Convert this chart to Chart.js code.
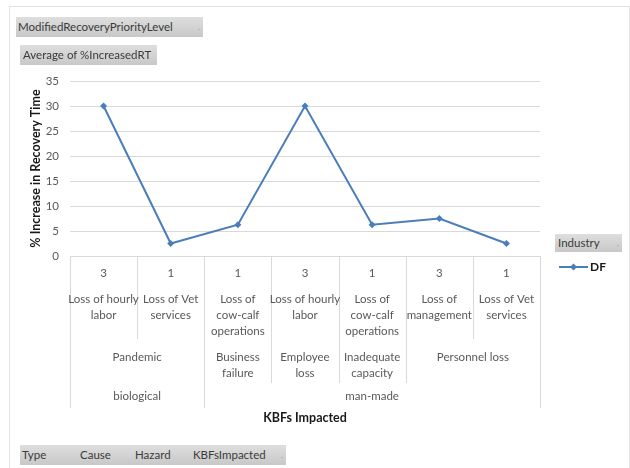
<!DOCTYPE html>
<html>
<head>
<meta charset="utf-8">
<script src="https://cdn.jsdelivr.net/npm/chart.js@4"></script>
<style>
  html, body { margin: 0; padding: 0; background: #fff; }
  #wrap { position: relative; width: 630px; height: 468px; overflow: hidden; font-family: Lato, "Liberation Sans", sans-serif; }
  #frame { position: absolute; left: 9px; top: 6px; width: 619px; height: 480px; border: 1px solid #e3e3e3; }
  canvas { position: absolute; left: 0; top: 0; }
  .field {
    position: absolute; box-sizing: border-box; height: 20px; line-height: 20px;
    font-size: 11.5px; color: #3a3a3a; white-space: nowrap;
    background: linear-gradient(#dedede, #c8c8c8);
    padding-left: 2px;
  }
  .field .dd { position: absolute; right: 3px; top: 0; color: #888; font-size: 8px; }
</style>
</head>
<body>
<div id="wrap">
  <div id="frame"></div>
  <canvas id="chart" width="630" height="468"></canvas>
  <div class="field" style="left:16px; top:17px; width:187px;">ModifiedRecoveryPriorityLevel<span class="dd">.</span></div>
  <div class="field" style="left:20px; top:45px; width:137px; padding-left:3px;">Average of %IncreasedRT</div>
  <div class="field" style="left:555px; top:234px; width:67px; height:18px; line-height:18px; padding-left:3px;">Industry<span class="dd">.</span></div>
  <div class="field" style="left:20px; top:445px; width:266px;">
    <span style="position:absolute; left:2px;">Type</span>
    <span style="position:absolute; left:60px;">Cause</span>
    <span style="position:absolute; left:115px;">Hazard</span>
    <span style="position:absolute; left:173px;">KBFsImpacted</span>
    <span class="dd">.</span>
  </div>
</div>
<script>
// Key business functions, one per point, with their recovery priority level
const kbfLabels = [
  ["Loss of hourly", "labor"],
  ["Loss of Vet", "services"],
  ["Loss of", "cow-calf", "operations"],
  ["Loss of hourly", "labor"],
  ["Loss of", "cow-calf", "operations"],
  ["Loss of", "management"],
  ["Loss of Vet", "services"]
];
const priorityLevels = ["3", "1", "1", "3", "1", "3", "1"];

// Hazard (cause) groups and hazard types, each covering a run of KBFs
const causeGroups = [
  { label: ["Pandemic"], span: 2 },
  { label: ["Business", "failure"], span: 1 },
  { label: ["Employee", "loss"], span: 1 },
  { label: ["Inadequate", "capacity"], span: 1 },
  { label: ["Personnel loss"], span: 2 }
];
const typeGroups = [
  { label: "biological", span: 2 },
  { label: "man-made", span: 5 }
];

// Average % increase in recovery time, industry DF
const seriesName = "DF";
const increasedRT = [30, 2.5, 6.25, 30, 6.25, 7.5, 2.5];

const FONT = "Lato, 'Liberation Sans', sans-serif";
const LINE_BLUE = "#4a7ebb";
const GRID = "#d9d9d9";
const TEXT = "#595959";

// Boundaries (category indices) where each group ends
function groupEdges(groups) {
  const edges = [];
  let acc = 0;
  groups.forEach(g => { acc += g.span; edges.push(acc); });
  return edges;
}

const groupedAxis = {
  id: "groupedAxis",
  afterDraw(chart) {
    const ctx = chart.ctx;
    const xs = chart.scales.x;
    const n = kbfLabels.length;
    const half = (xs.getPixelForValue(1) - xs.getPixelForValue(0)) / 2;
    const leftOf = i => xs.getPixelForValue(i) - half;
    const top = chart.chartArea.bottom;
    const typeEdges = groupEdges(typeGroups);
    const causeEdges = groupEdges(causeGroups);

    ctx.save();
    // separator lines, longer for the outer grouping levels
    ctx.strokeStyle = GRID;
    ctx.lineWidth = 1;
    for (let b = 0; b <= n; b++) {
      let depth = 83;
      if (b === 0 || typeEdges.includes(b)) depth = 152;
      else if (causeEdges.includes(b)) depth = 127;
      const x = Math.round(leftOf(b)) + 0.5;
      ctx.beginPath();
      ctx.moveTo(x, top);
      ctx.lineTo(x, top + depth);
      ctx.stroke();
    }

    ctx.fillStyle = TEXT;
    ctx.textAlign = "center";
    ctx.textBaseline = "middle";
    ctx.font = "11.5px " + FONT;
    // innermost level: priority level and KBF name
    for (let i = 0; i < n; i++) {
      const cx = xs.getPixelForValue(i);
      ctx.fillText(priorityLevels[i], cx, top + 17);
      kbfLabels[i].forEach((line, k) => ctx.fillText(line, cx, top + 43 + k * 16));
    }
    // cause level
    let start = 0;
    causeGroups.forEach(g => {
      const cx = (leftOf(start) + leftOf(start + g.span)) / 2;
      g.label.forEach((line, k) => ctx.fillText(line, cx, top + 101 + k * 16));
      start += g.span;
    });
    // hazard type level
    start = 0;
    typeGroups.forEach(g => {
      const cx = (leftOf(start) + leftOf(start + g.span)) / 2;
      ctx.fillText(g.label, cx, top + 140);
      start += g.span;
    });
    // axis title
    ctx.fillStyle = "#1a1a1a";
    ctx.font = "bold 12.5px " + FONT;
    ctx.fillText("KBFs Impacted", (leftOf(0) + leftOf(n)) / 2, top + 162);

    // series key under the Industry field
    const ds = chart.data.datasets[0];
    const ly = 267;
    ctx.strokeStyle = ds.borderColor;
    ctx.lineWidth = 2;
    ctx.beginPath();
    ctx.moveTo(559, ly);
    ctx.lineTo(588, ly);
    ctx.stroke();
    ctx.fillStyle = ds.borderColor;
    ctx.beginPath();
    ctx.moveTo(573.5, ly - 3.5);
    ctx.lineTo(577, ly);
    ctx.lineTo(573.5, ly + 3.5);
    ctx.lineTo(570, ly);
    ctx.closePath();
    ctx.fill();
    ctx.fillStyle = "#1a1a1a";
    ctx.textAlign = "left";
    ctx.font = "bold 12px " + FONT;
    ctx.fillText(ds.label, 590, ly + 0.5);
    ctx.restore();
  }
};

new Chart(document.getElementById("chart"), {
  type: "line",
  data: {
    labels: kbfLabels.map(l => l.join(" ")),
    datasets: [{
      label: seriesName,
      data: increasedRT,
      borderColor: LINE_BLUE,
      backgroundColor: LINE_BLUE,
      borderWidth: 2,
      tension: 0,
      pointStyle: "rectRot",
      pointRadius: 3.5,
      pointBorderWidth: 0,
      pointBackgroundColor: LINE_BLUE
    }]
  },
  options: {
    responsive: false,
    animation: false,
    events: [],
    layout: { autoPadding: false, padding: { left: 10, top: 81, right: 90, bottom: 212 } },
    plugins: { legend: { display: false }, tooltip: { enabled: false } },
    scales: {
      x: { type: "category", offset: true, display: false },
      y: {
        min: 0, max: 35,
        ticks: { stepSize: 5, padding: 11, color: TEXT, font: { family: FONT, size: 11.5 } },
        grid: { color: GRID, drawTicks: false },
        border: { display: false },
        title: {
          display: true, text: "% Increase in Recovery Time", color: "#1a1a1a",
          font: { family: FONT, size: 12.5, weight: "bold" },
          padding: { top: 18, bottom: 0 }
        },
        afterFit(scale) { scale.width = 60; }
      }
    }
  },
  plugins: [groupedAxis]
});
</script>
</body>
</html>
